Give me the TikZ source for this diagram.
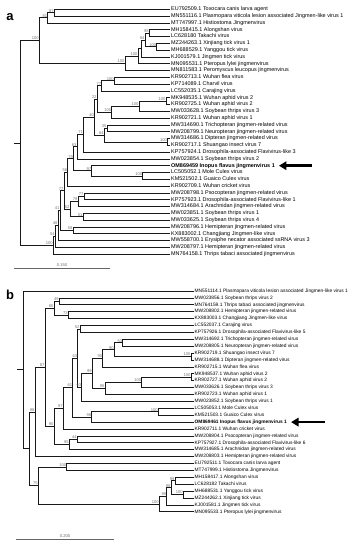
\documentclass[tikz,border=0pt]{standalone}
\usepackage{fontspec}
\setmainfont{Liberation Sans}
\usetikzlibrary{arrows.meta}
\begin{document}
\begin{tikzpicture}[x=1pt,y=-1pt,
  br/.style={draw=black!90,line width=0.8pt},
  la/.style={anchor=west,inner sep=1pt,font=\fontsize{5.45}{6}\selectfont,text height=3.9pt,text depth=1.1pt},
  lb/.style={anchor=west,inner sep=1pt,font=\fontsize{4.85}{6}\selectfont,text height=3.5pt,text depth=1pt},
  bs/.style={anchor=south east,inner sep=0.4pt,font=\fontsize{4.1}{4.5}\selectfont,text=black!55},
  bigarrow/.style={line width=2.5pt,-{Triangle[length=7.5pt,width=8.5pt]}},
  scl/.style={draw=black!60,line width=0.6pt},
  sct/.style={font=\fontsize{4.1}{4.5}\selectfont,text=black!60,inner sep=0.5pt},
  panel/.style={font=\fontsize{13}{14}\selectfont\bfseries,inner sep=0pt}]
\useasboundingbox (0,0) rectangle (351,550);
\node[panel] (pa) at (10,17) {a};
\node[panel] (pb) at (10,295) {b};
% ---------------- tree a leaves
\node[la] (aL01) at (170,9.3) {EU792509.1 Toxocara canis larva agent};
\node[la] (aL02) at (170,16.1) {MN551116.1 Plasmopara viticola lesion associated Jingmen-like virus 1};
\node[la] (aL03) at (170,22.9) {MT747997.1 Histiostoma Jingmenvirus};
\node[la] (aL04) at (170,29.7) {MH158415.1 Alongshan virus};
\node[la] (aL05) at (170,36.5) {LC628180 Takachi virus};
\node[la] (aL06) at (170,43.3) {MZ244263.1 Xinjiang tick virus 1};
\node[la] (aL07) at (170,50.1) {MH688529.1 Yanggou tick virus};
\node[la] (aL08) at (170,56.9) {KJ001579.1 Jingmen tick virus};
\node[la] (aL09) at (170,63.7) {MN095531.1 Pteropus lylei jingmenvirus};
\node[la] (aL10) at (170,70.5) {MN811583.1 Peromyscus leucopus jingmenvirus};
\node[la] (aL11) at (170,77.3) {KR902713.1 Wuhan flea virus};
\node[la] (aL12) at (170,84.1) {KP714089.1 Charvil virus};
\node[la] (aL13) at (170,90.9) {LC552035.1 Carajing virus};
\node[la] (aL14) at (170,97.7) {MK948535.1 Wuhan aphid virus 2};
\node[la] (aL15) at (170,104.5) {KR902725.1 Wuhan aphid virus 2};
\node[la] (aL16) at (170,111.3) {MW033628.1 Soybean thrips virus 3};
\node[la] (aL17) at (170,118.1) {KR902721.1 Wuhan aphid virus 1};
\node[la] (aL18) at (170,124.9) {MW314690.1 Trichopteran jingmen-related virus};
\node[la] (aL19) at (170,131.7) {MW208799.1 Neuropteran jingmen-related virus};
\node[la] (aL20) at (170,138.5) {MW314686.1 Dipteran jingmen-related virus};
\node[la] (aL21) at (170,145.3) {KR902717.1 Shuangao insect virus 7};
\node[la] (aL22) at (170,152.1) {KP757924.1 Drosophila-associated Flavivirus-like 3};
\node[la] (aL23) at (170,158.9) {MW023854.1 Soybean thrips virus 2};
\node[la,font=\fontsize{5.45}{6}\selectfont\bfseries] (aL24) at (170,165.7) {OM869459 Inopus flavus jingmenvirus 1};
\node[la] (aL25) at (170,172.5) {LC505052.1 Mole Culex virus};
\node[la] (aL26) at (170,179.3) {KM521502.1 Guaico Culex virus};
\node[la] (aL27) at (170,186.1) {KR902709.1 Wuhan cricket virus};
\node[la] (aL28) at (170,192.9) {MW208798.1 Psocopteran jingmen-related virus};
\node[la] (aL29) at (170,199.7) {KP757923.1 Drosophila-associated Flavivirus-like 1};
\node[la] (aL30) at (170,206.5) {MW314684.1 Arachnidan jingmen-related virus};
\node[la] (aL31) at (170,213.3) {MW023851.1 Soybean thrips virus 1};
\node[la] (aL32) at (170,220.1) {MW033625.1 Soybean thrips virus 4};
\node[la] (aL33) at (170,226.9) {MW208796.1 Hemipteran jingmen-related virus};
\node[la] (aL34) at (170,233.7) {KX883002.1 Changjiang Jingmen-like virus};
\node[la] (aL35) at (170,240.5) {MW558700.1 Erysiphe necator associated ssRNA virus 3};
\node[la] (aL36) at (170,247.3) {MW208797.1 Hemipteran jingmen-related virus};
\node[la] (aL37) at (170,254.1) {MN764158.1 Thrips tabaci associated jingmenvirus};
% ---------------- tree a internal nodes
\coordinate (aN1) at (54.3,12.7);
\coordinate (aN2) at (47.7,17.8);
\coordinate (aAT) at (149.3,33.1);
\coordinate (aXY) at (156.7,46.7);
\coordinate (aATXY) at (145,39.9);
\coordinate (aJ) at (141,48.4);
\coordinate (aP1) at (138,56.05);
\coordinate (aP2) at (125,63.3);
\coordinate (aTop) at (39.3,40.55);
\coordinate (aFC) at (114.3,80.7);
\coordinate (aFCC) at (101.7,85.8);
\coordinate (aAp1) at (166,101.1);
\coordinate (aAp2) at (139,106.2);
\coordinate (aAp3) at (111.7,112.15);
\coordinate (aK22) at (97,98.98);
\coordinate (aK35) at (107,128.3);
\coordinate (aDp) at (167.5,141.9);
\coordinate (aK64) at (104.3,135.1);
\coordinate (aK40) at (94.5,117.04);
\coordinate (aK71) at (83.5,134.57);
\coordinate (aK63) at (77,146.74);
\coordinate (aLK) at (142.7,175.9);
\coordinate (aOM) at (91.7,170.8);
\coordinate (aK79) at (73.5,158.77);
\coordinate (aK56) at (67.8,172.43);
\coordinate (aA1) at (84,196.3);
\coordinate (aA2) at (78,201.4);
\coordinate (aA3) at (83,216.7);
\coordinate (aA4) at (70,209.05);
\coordinate (aK77) at (64,190.74);
\coordinate (aB1) at (73,230.3);
\coordinate (aK41) at (60,210.52);
\coordinate (aK48) at (58,225.51);
\coordinate (aK54) at (55.3,236.4);
\coordinate (aB) at (53.3,245.25);
\coordinate (aRoot) at (20,142.9);
\coordinate (aR0) at (14,142.9);
% ---------------- tree a branches
\draw[br] (aR0) -- (aRoot);
\draw[br] (aRoot) |- (aTop); \draw[br] (aRoot) |- (aB);
\draw[br] (aTop) |- (aN2); \draw[br] (aTop) |- (aP2);
\draw[br] (aN2) |- (aN1); \draw[br] (aN2) |- (aL03.west);
\draw[br] (aN1) |- (aL01.west); \draw[br] (aN1) |- (aL02.west);
\draw[br] (aP2) |- (aP1); \draw[br] (aP2) |- (aL10.west);
\draw[br] (aP1) |- (aJ); \draw[br] (aP1) |- (aL09.west);
\draw[br] (aJ) |- (aATXY); \draw[br] (aJ) |- (aL08.west);
\draw[br] (aATXY) |- (aAT); \draw[br] (aATXY) |- (aXY);
\draw[br] (aAT) |- (aL04.west); \draw[br] (aAT) |- (aL05.west);
\draw[br] (aXY) |- (aL06.west); \draw[br] (aXY) |- (aL07.west);
\draw[br] (aB) |- (aK54); \draw[br] (aB) |- (aL37.west);
\draw[br] (aK54) |- (aK48); \draw[br] (aK54) |- (aL36.west);
\draw[br] (aK48) |- (aK41); \draw[br] (aK48) |- (aL35.west);
\draw[br] (aK41) |- (aK77); \draw[br] (aK41) |- (aB1);
\draw[br] (aB1) |- (aL33.west); \draw[br] (aB1) |- (aL34.west);
\draw[br] (aK77) |- (aK56); \draw[br] (aK77) |- (aA4);
\draw[br] (aA4) |- (aA2); \draw[br] (aA4) |- (aA3);
\draw[br] (aA2) |- (aA1); \draw[br] (aA2) |- (aL30.west);
\draw[br] (aA1) |- (aL28.west); \draw[br] (aA1) |- (aL29.west);
\draw[br] (aA3) |- (aL31.west); \draw[br] (aA3) |- (aL32.west);
\draw[br] (aK56) |- (aK79); \draw[br] (aK56) |- (aL27.west);
\draw[br] (aK79) |- (aK63); \draw[br] (aK79) |- (aOM);
\draw[br] (aOM) |- (aL24.west); \draw[br] (aOM) |- (aLK);
\draw[br] (aLK) |- (aL25.west); \draw[br] (aLK) |- (aL26.west);
\draw[br] (aK63) |- (aK71); \draw[br] (aK63) |- (aL23.west);
\draw[br] (aK71) |- (aK40); \draw[br] (aK71) |- (aL22.west);
\draw[br] (aK40) |- (aK22); \draw[br] (aK40) |- (aK64);
\draw[br] (aK22) |- (aFCC); \draw[br] (aK22) |- (aAp3);
\draw[br] (aFCC) |- (aFC); \draw[br] (aFCC) |- (aL13.west);
\draw[br] (aFC) |- (aL11.west); \draw[br] (aFC) |- (aL12.west);
\draw[br] (aAp3) |- (aAp2); \draw[br] (aAp3) |- (aL17.west);
\draw[br] (aAp2) |- (aAp1); \draw[br] (aAp2) |- (aL16.west);
\draw[br] (aAp1) |- (aL14.west); \draw[br] (aAp1) |- (aL15.west);
\draw[br] (aK64) |- (aK35); \draw[br] (aK64) |- (aDp);
\draw[br] (aK35) |- (aL18.west); \draw[br] (aK35) |- (aL19.west);
\draw[br] (aDp) |- (aL20.west); \draw[br] (aDp) |- (aL21.west);
% ---------------- tree a support values
\node[bs] (sa01) at (aN1) {87};
\node[bs] (sa02) at (aN2) {81};
\node[bs] (sa03) at (aTop) {100};
\node[bs] (sa04) at (aAT) {98};
\node[bs] (sa05) at (aXY) {100};
\node[bs] (sa06) at (aATXY) {94};
\node[bs] (sa07) at (aP1) {100};
\node[bs] (sa08) at (aP2) {100};
\node[bs] (sa09) at (aFC) {100};
\node[bs] (sa10) at (aFCC) {77};
\node[bs] (sa11) at (aK22) {22};
\node[bs] (sa12) at (aAp1) {100};
\node[bs] (sa13) at (aAp2) {100};
\node[bs] (sa14) at (aAp3) {100};
\node[bs] (sa15) at (aK40) {40};
\node[bs] (sa16) at (aK35) {35};
\node[bs] (sa17) at (aK64) {64};
\node[bs] (sa18) at (aDp) {100};
\node[bs] (sa19) at (aK71) {71};
\node[bs] (sa20) at (aK63) {63};
\node[bs] (sa21) at (aLK) {100};
\node[bs] (sa22) at (aOM) {97};
\node[bs] (sa23) at (aK79) {79};
\node[bs] (sa24) at (aK56) {56};
\node[bs] (sa25) at (aA1) {77};
\node[bs] (sa26) at (aA2) {79};
\node[bs] (sa27) at (aA3) {51};
\node[bs] (sa28) at (aA4) {52};
\node[bs] (sa29) at (aK77) {77};
\node[bs] (sa30) at (aB1) {59};
\node[bs] (sa31) at (aK41) {41};
\node[bs] (sa32) at (aK48) {48};
\node[bs] (sa33) at (aK54) {54};
\node[bs] (sa34) at (aB) {100};
% arrow a
\coordinate (aArT) at ([xshift=3pt]aL24.east);
\coordinate (aArE) at ([xshift=36pt]aL24.east);
\draw[bigarrow] (aArE) -- (aArT);
% scale a
\coordinate (sA1) at (14,268.5); \coordinate (sA2) at (110,268.5);
\draw[scl] (sA1) -- (sA2);
\node[sct,anchor=south] (sAt) at (62,267.3) {0.150};
% ---------------- tree b leaves
\node[lb] (bL01) at (193.5,291) {MN551114.1 Plasmopara viticola lesion associated Jingmen-like virus 1};
\node[lb] (bL02) at (193.5,297.9) {MW023856.1 Soybean thrips virus 2};
\node[lb] (bL03) at (193.5,304.8) {MN764159.1 Thrips tabaci associated jingmenvirus};
\node[lb] (bL04) at (193.5,311.7) {MW208802.1 Hemipteran jingmen-related virus};
\node[lb] (bL05) at (193.5,318.6) {KX883003.1 Changjiang Jingmen-like virus};
\node[lb] (bL06) at (193.5,325.5) {LC552037.1 Carajing virus};
\node[lb] (bL07) at (193.5,332.4) {KP757926.1 Drosophila-associated Flavivirus-like 5};
\node[lb] (bL08) at (193.5,339.3) {MW314692.1 Trichopteran jingmen-related virus};
\node[lb] (bL09) at (193.5,346.2) {MW208805.1 Neuropteran jingmen-related virus};
\node[lb] (bL10) at (193.5,353.1) {KR902719.1 Shuangao insect virus 7};
\node[lb] (bL11) at (193.5,360) {MW314688.1 Dipteran jingmen-related virus};
\node[lb] (bL12) at (193.5,366.9) {KR902715.1 Wuhan flea virus};
\node[lb] (bL13) at (193.5,373.8) {MK948537.1 Wuhan aphid virus 2};
\node[lb] (bL14) at (193.5,380.7) {KR902727.1 Wuhan aphid virus 2};
\node[lb] (bL15) at (193.5,387.6) {MW033626.1 Soybean thrips virus 3};
\node[lb] (bL16) at (193.5,394.5) {KR902723.1 Wuhan aphid virus 1};
\node[lb] (bL17) at (193.5,401.4) {MW023852.1 Soybean thrips virus 1};
\node[lb] (bL18) at (193.5,408.3) {LC505053.1 Mole Culex virus};
\node[lb] (bL19) at (193.5,415.2) {KM521503.1 Guaico Culex virus};
\node[lb,font=\fontsize{4.85}{6}\selectfont\bfseries] (bL20) at (193.5,422.1) {OM869461 Inopus flavus jingmenvirus 1};
\node[lb] (bL21) at (193.5,429) {KR902711.1 Wuhan cricket virus};
\node[lb] (bL22) at (193.5,435.9) {MW208804.1 Psocopteran jingmen-related virus};
\node[lb] (bL23) at (193.5,442.8) {KP757927.1 Drosophila-associated Flavivirus-like 6};
\node[lb] (bL24) at (193.5,449.7) {MW314685.1 Arachnidan jingmen-related virus};
\node[lb] (bL25) at (193.5,456.6) {MW208803.1 Hemipteran jingmen-related virus};
\node[lb] (bL26) at (193.5,463.5) {EU792511.1 Toxocara canis larva agent};
\node[lb] (bL27) at (193.5,470.4) {MT747999.1 Histiostoma Jingmenvirus};
\node[lb] (bL28) at (193.5,477.3) {MH158417.1 Alongshan virus};
\node[lb] (bL29) at (193.5,484.2) {LC628182 Takachi virus};
\node[lb] (bL30) at (193.5,491.1) {MH688531.1 Yanggou tick virus};
\node[lb] (bL31) at (193.5,498) {MZ244262.1 Xinjiang tick virus};
\node[lb] (bL32) at (193.5,504.9) {KJ001581.1 Jingmen tick virus};
\node[lb] (bL33) at (193.5,511.8) {MN095533.1 Pteropus lylei jingmenvirus};
% ---------------- tree b internal nodes
\coordinate (bS) at (59.3,301.35);
\coordinate (bH) at (68.3,315.15);
\coordinate (b80) at (54,308.25);
\coordinate (bCK) at (80,328.95);
\coordinate (bTN) at (122.7,342.75);
\coordinate (bDp) at (191,356.55);
\coordinate (bTND) at (114.3,349.65);
\coordinate (bTNDF) at (102.7,358.28);
\coordinate (bAp1) at (191,377.25);
\coordinate (bAp2) at (141.7,382.43);
\coordinate (bAp3) at (105,388.46);
\coordinate (bK99) at (92.3,373.37);
\coordinate (bK63a) at (81.7,387.39);
\coordinate (bK63b) at (77.7,358.17);
\coordinate (bLK) at (158.3,411.75);
\coordinate (bOM) at (91.7,416.93);
\coordinate (bK61) at (72.7,387.55);
\coordinate (bK97) at (63.3,408.28);
\coordinate (bPs1) at (77.3,439.35);
\coordinate (bPs2) at (69.3,444.53);
\coordinate (bK90) at (54,426.4);
\coordinate (bK87) at (45,367.33);
\coordinate (bK98) at (35,411.96);
\coordinate (bTH) at (66.7,466.95);
\coordinate (bAT) at (175,480.75);
\coordinate (bXY) at (183.3,494.55);
\coordinate (bATXY) at (171,487.65);
\coordinate (bK) at (166.7,496.28);
\coordinate (bP) at (159.3,504.04);
\coordinate (bK75) at (38.3,485.5);
\coordinate (bR2) at (29,448.73);
\coordinate (bRoot) at (23.3,369.87);
\coordinate (bR0) at (17.3,369.87);
% ---------------- tree b branches
\draw[br] (bR0) -- (bRoot);
\draw[br] (bRoot) |- (bL01.west); \draw[br] (bRoot) |- (bR2);
\draw[br] (bR2) |- (bK98); \draw[br] (bR2) |- (bK75);
\draw[br] (bK98) |- (bK87); \draw[br] (bK98) |- (bL25.west);
\draw[br] (bK87) |- (b80); \draw[br] (bK87) |- (bK90);
\draw[br] (b80) |- (bS); \draw[br] (b80) |- (bH);
\draw[br] (bS) |- (bL02.west); \draw[br] (bS) |- (bL03.west);
\draw[br] (bH) |- (bL04.west); \draw[br] (bH) |- (bL05.west);
\draw[br] (bK90) |- (bK97); \draw[br] (bK90) |- (bPs2);
\draw[br] (bPs2) |- (bPs1); \draw[br] (bPs2) |- (bL24.west);
\draw[br] (bPs1) |- (bL22.west); \draw[br] (bPs1) |- (bL23.west);
\draw[br] (bK97) |- (bK61); \draw[br] (bK97) |- (bL21.west);
\draw[br] (bK61) |- (bK63b); \draw[br] (bK61) |- (bOM);
\draw[br] (bOM) |- (bLK); \draw[br] (bOM) |- (bL20.west);
\draw[br] (bLK) |- (bL18.west); \draw[br] (bLK) |- (bL19.west);
\draw[br] (bK63b) |- (bCK); \draw[br] (bK63b) |- (bK63a);
\draw[br] (bCK) |- (bL06.west); \draw[br] (bCK) |- (bL07.west);
\draw[br] (bK63a) |- (bK99); \draw[br] (bK63a) |- (bL17.west);
\draw[br] (bK99) |- (bTNDF); \draw[br] (bK99) |- (bAp3);
\draw[br] (bTNDF) |- (bTND); \draw[br] (bTNDF) |- (bL12.west);
\draw[br] (bTND) |- (bTN); \draw[br] (bTND) |- (bDp);
\draw[br] (bTN) |- (bL08.west); \draw[br] (bTN) |- (bL09.west);
\draw[br] (bDp) |- (bL10.west); \draw[br] (bDp) |- (bL11.west);
\draw[br] (bAp3) |- (bAp2); \draw[br] (bAp3) |- (bL16.west);
\draw[br] (bAp2) |- (bAp1); \draw[br] (bAp2) |- (bL15.west);
\draw[br] (bAp1) |- (bL13.west); \draw[br] (bAp1) |- (bL14.west);
\draw[br] (bK75) |- (bTH); \draw[br] (bK75) |- (bP);
\draw[br] (bTH) |- (bL26.west); \draw[br] (bTH) |- (bL27.west);
\draw[br] (bP) |- (bK); \draw[br] (bP) |- (bL33.west);
\draw[br] (bK) |- (bATXY); \draw[br] (bK) |- (bL32.west);
\draw[br] (bATXY) |- (bAT); \draw[br] (bATXY) |- (bXY);
\draw[br] (bAT) |- (bL28.west); \draw[br] (bAT) |- (bL29.west);
\draw[br] (bXY) |- (bL30.west); \draw[br] (bXY) |- (bL31.west);
% ---------------- tree b support values
\node[bs] (sb01) at (bS) {49};
\node[bs] (sb02) at (bH) {73};
\node[bs] (sb03) at (b80) {80};
\node[bs] (sb04) at (bCK) {52};
\node[bs] (sb05) at (bTN) {53};
\node[bs] (sb06) at (bDp) {100};
\node[bs] (sb07) at (bTND) {90};
\node[bs] (sb08) at (bTNDF) {90};
\node[bs] (sb09) at (bAp1) {100};
\node[bs] (sb10) at (bAp2) {100};
\node[bs] (sb11) at (bAp3) {95};
\node[bs] (sb12) at (bK99) {99};
\node[bs] (sb13) at (bK63a) {63};
\node[bs] (sb14) at (bK63b) {63};
\node[bs] (sb15) at (bLK) {100};
\node[bs] (sb16) at (bOM) {98};
\node[bs] (sb17) at (bK61) {61};
\node[bs] (sb18) at (bK97) {97};
\node[bs] (sb19) at (bPs1) {44};
\node[bs] (sb20) at (bPs2) {95};
\node[bs] (sb21) at (bK90) {90};
\node[bs] (sb22) at (bK87) {87};
\node[bs] (sb23) at (bK98) {98};
\node[bs] (sb24) at (bTH) {100};
\node[bs] (sb25) at (bAT) {99};
\node[bs] (sb26) at (bXY) {100};
\node[bs] (sb27) at (bATXY) {98};
\node[bs] (sb28) at (bK) {99};
\node[bs] (sb29) at (bP) {100};
\node[bs] (sb30) at (bK75) {75};
% arrow b
\coordinate (bArT) at ([xshift=3pt]bL20.east);
\coordinate (bArE) at ([xshift=37pt]bL20.east);
\draw[bigarrow] (bArE) -- (bArT);
% scale b
\coordinate (sB1) at (16,539); \coordinate (sB2) at (114,539);
\draw[scl] (sB1) -- (sB2);
\node[sct,anchor=south] (sBt) at (65,537.8) {0.200};
\end{tikzpicture}
\end{document}
